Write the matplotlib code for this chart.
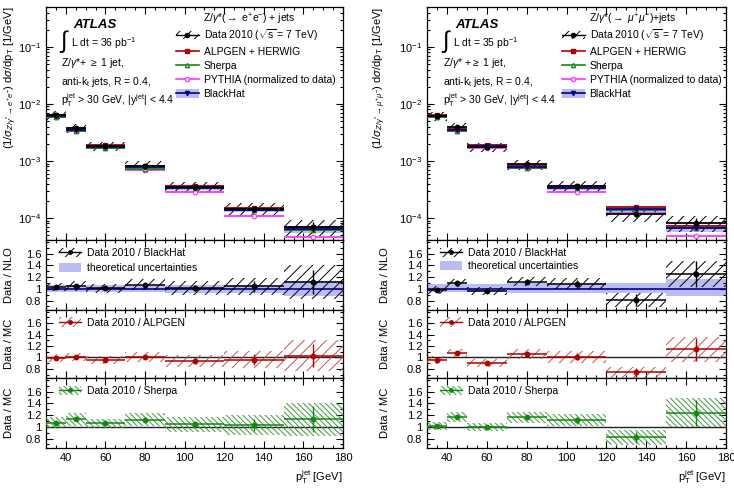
import matplotlib
matplotlib.use('Agg')
import matplotlib.pyplot as plt
import numpy as np
from matplotlib.patches import Patch
from matplotlib.lines import Line2D
from matplotlib.ticker import MultipleLocator, LogLocator, NullFormatter, FuncFormatter

plt.rcParams['font.family'] = ['Liberation Sans', 'DejaVu Sans']
plt.rcParams['mathtext.fontset'] = 'custom'
plt.rcParams['mathtext.rm'] = 'Liberation Sans'
plt.rcParams['mathtext.it'] = 'Liberation Sans:italic'
plt.rcParams['mathtext.bf'] = 'Liberation Sans:bold'
plt.rcParams['mathtext.sf'] = 'Liberation Sans'
plt.rcParams['hatch.linewidth'] = 0.7

# ---------------- data ----------------
bin_edges = [30, 40, 50, 70, 90, 120, 150, 180]

# electron channel, main panel
data_e = [6.3e-3, 3.7e-3, 1.8e-3, 8.2e-4, 3.5e-4, 1.45e-4, 7.0e-5]
data_band_e = [0.18, 0.18, 0.18, 0.20, 0.22, 0.25, 0.30]
data_stat_e = [0.02, 0.03, 0.03, 0.05, 0.07, 0.10, 0.20]
alpgen_e = [6.4e-3, 3.65e-3, 1.87e-3, 8.1e-4, 3.7e-4, 1.5e-4, 6.8e-5]
sherpa_e = [5.9e-3, 3.3e-3, 1.7e-3, 7.3e-4, 3.4e-4, 1.4e-4, 6.2e-5]
pythia_e = [5.9e-3, 3.3e-3, 1.65e-3, 6.8e-4, 2.8e-4, 1.08e-4, 4.7e-5]
blackhat_e = [6.1e-3, 3.5e-3, 1.78e-3, 7.7e-4, 3.4e-4, 1.4e-4, 6.3e-5]
bh_band_e = [0.08, 0.08, 0.08, 0.09, 0.10, 0.10, 0.14]

# electron channel, ratios
r_bh_e = [1.03, 1.05, 1.01, 1.07, 1.02, 1.04, 1.12]
syst_bh_e = [0.07, 0.08, 0.08, 0.09, 0.12, 0.15, 0.29]
stat_bh_e = [0.02, 0.02, 0.02, 0.03, 0.05, 0.09, 0.20]
theo_lo_e = [0.95, 0.95, 0.95, 0.95, 0.93, 0.93, 0.88]
theo_hi_e = [1.07, 1.07, 1.07, 1.07, 1.06, 1.06, 1.14]
r_alp_e = [0.99, 1.01, 0.96, 1.01, 0.94, 0.96, 1.03]
syst_alp_e = [0.07, 0.07, 0.07, 0.09, 0.11, 0.15, 0.27]
stat_alp_e = [0.02, 0.02, 0.02, 0.03, 0.05, 0.10, 0.20]
r_sh_e = [1.07, 1.13, 1.06, 1.12, 1.04, 1.03, 1.13]
syst_sh_e = [0.09, 0.11, 0.08, 0.11, 0.13, 0.17, 0.28]
stat_sh_e = [0.02, 0.02, 0.02, 0.04, 0.05, 0.10, 0.22]

# muon channel, main panel
data_m = [6.1e-3, 3.9e-3, 1.75e-3, 8.8e-4, 3.7e-4, 1.15e-4, 8.2e-5]
data_band_m = [0.18, 0.18, 0.18, 0.20, 0.22, 0.25, 0.30]
data_stat_m = [0.02, 0.03, 0.03, 0.05, 0.07, 0.10, 0.20]
alpgen_m = [6.4e-3, 3.6e-3, 1.92e-3, 8.3e-4, 3.65e-4, 1.55e-4, 7.2e-5]
sherpa_m = [6.0e-3, 3.3e-3, 1.75e-3, 7.6e-4, 3.3e-4, 1.4e-4, 6.6e-5]
pythia_m = [6.0e-3, 3.4e-3, 1.7e-3, 7.5e-4, 2.9e-4, 1.2e-4, 4.8e-5]
blackhat_m = [6.2e-3, 3.5e-3, 1.82e-3, 7.9e-4, 3.4e-4, 1.42e-4, 6.6e-5]
bh_band_m = [0.08, 0.08, 0.08, 0.10, 0.10, 0.10, 0.15]

# muon channel, ratios
r_bh_m = [0.98, 1.10, 0.96, 1.12, 1.09, 0.81, 1.25]
syst_bh_m = [0.07, 0.07, 0.07, 0.08, 0.10, 0.12, 0.22]
stat_bh_m = [0.02, 0.02, 0.02, 0.04, 0.06, 0.10, 0.22]
theo_lo_m = [0.94, 0.94, 0.94, 0.93, 0.93, 0.93, 0.88]
theo_hi_m = [1.08, 1.08, 1.08, 1.10, 1.10, 1.10, 1.17]
r_alp_m = [0.95, 1.07, 0.91, 1.06, 1.01, 0.74, 1.14]
syst_alp_m = [0.07, 0.07, 0.07, 0.08, 0.10, 0.10, 0.22]
stat_alp_m = [0.02, 0.02, 0.02, 0.04, 0.06, 0.08, 0.20]
r_sh_m = [1.01, 1.17, 1.00, 1.16, 1.11, 0.82, 1.24]
syst_sh_m = [0.07, 0.09, 0.07, 0.10, 0.10, 0.13, 0.25]
stat_sh_m = [0.02, 0.02, 0.02, 0.04, 0.06, 0.09, 0.22]

# ---------------- style ----------------
C_DATA = 'black'
C_ALP = '#b00000'
C_ALP_H = '#c85050'
C_SH = '#128a12'
C_SH_H = '#3c9a3c'
C_PY = '#ff33ff'
C_BH = '#000090'
C_BAND = '#bcbcf4'
H_DATA = '///'
H_SH = '\\' * 6

edges = np.array(bin_edges, dtype=float)
lefts = edges[:-1]
rights = edges[1:]
centers = 0.5 * (lefts + rights)
widths = rights - lefts

W, H = 734, 497
fig = plt.figure(figsize=(W / 100, H / 100), dpi=100)


def rect(x0, x1, y0, y1):
    return [x0 / W, 1 - y1 / H, (x1 - x0) / W, (y1 - y0) / H]


def style_axes(ax, ratio=False):
    ax.set_xlim(30, 180)
    ax.xaxis.set_major_locator(MultipleLocator(20))
    ax.xaxis.set_minor_locator(MultipleLocator(5))
    ax.tick_params(which='both', direction='in', top=True, right=True, labelsize=8)
    ax.tick_params(which='major', length=5, width=0.8)
    ax.tick_params(which='minor', length=2.5, width=0.8)
    for s in ax.spines.values():
        s.set_linewidth(0.9)
    if ratio:
        ax.set_ylim(0.64, 1.83)
        ax.set_yticks([0.8, 1.0, 1.2, 1.4, 1.6])
        ax.yaxis.set_minor_locator(MultipleLocator(0.1))
        ax.yaxis.set_major_formatter(FuncFormatter(lambda v, p: '%g' % v))


def draw_main(fig, xr, data, band, stat, alp, sh, py, bh, bhband,
              title, lumi, ylabel, txt_x, leg_x, ylabel_x, zline):
    ax = fig.add_axes(rect(xr[0], xr[1], 7, 240))
    ax.set_yscale('log')
    ax.set_ylim(4.1e-5, 0.5)
    style_axes(ax)
    ax.yaxis.set_minor_locator(LogLocator(base=10, subs=np.arange(2, 10)))
    ax.yaxis.set_minor_formatter(NullFormatter())
    ax.set_xticklabels([])
    data = np.array(data); bh = np.array(bh)
    # BlackHat band
    ax.bar(centers, 2 * bh * np.array(bhband), bottom=bh * (1 - np.array(bhband)),
           width=widths, color=C_BAND, lw=0, zorder=1)
    # data hatched band
    ax.bar(centers, 2 * data * np.array(band), bottom=data * (1 - np.array(band)),
           width=widths, fill=False, hatch=H_DATA, edgecolor=C_DATA, lw=0, zorder=2)
    for vals, col, mk, mfc in [(py, C_PY, 'o', 'white'), (sh, C_SH, '^', 'white'),
                               (alp, C_ALP, 's', C_ALP), (bh, C_BH, 'v', C_BH)]:
        ax.hlines(vals, lefts, rights, color=col, lw=1.3, zorder=3)
        ax.plot(centers, vals, ls='none', marker=mk, ms=3.2, mec=col, mfc=mfc,
                mew=0.9, zorder=4)
    ax.hlines(data, lefts, rights, color=C_DATA, lw=1.3, zorder=5)
    ax.errorbar(centers, data, yerr=data * np.array(stat), fmt='o', color=C_DATA,
                ms=3.2, lw=1, zorder=6)
    ax.set_ylabel(ylabel, fontsize=8, loc='top')
    ax.yaxis.set_label_coords(ylabel_x, 1.0)

    # annotations (pixel positions converted to axes fraction)
    def ax_pt(px, py_):
        return ((px - xr[0]) / (xr[1] - xr[0]), 1 - (py_ - 7) / 233)
    ax.text(*ax_pt(txt_x + 12, 25), 'ATLAS', fontsize=9.5, fontweight='bold',
            fontstyle='italic', transform=ax.transAxes, va='center')
    ax.text(*ax_pt(txt_x - 1, 42), '\u222B', fontsize=17, transform=ax.transAxes,
            va='center')
    ax.text(*ax_pt(txt_x + 10, 43), lumi, fontsize=7.5, transform=ax.transAxes,
            va='center')
    ax.text(*ax_pt(txt_x, 63), zline, fontsize=7.5, transform=ax.transAxes,
            va='center')
    ax.text(*ax_pt(txt_x, 82), r'anti-k$_{\rm t}$ jets, R = 0.4,', fontsize=7.5,
            transform=ax.transAxes, va='center')
    ax.text(*ax_pt(txt_x, 100), r'p$_{\rm T}^{\rm jet}$ > 30 GeV, |y$^{\rm jet}$| < 4.4',
            fontsize=7.5, transform=ax.transAxes, va='center')

    # legend
    ax.text(*ax_pt(leg_x + 27, 19), title, fontsize=7.5, transform=ax.transAxes,
            va='center')
    handles = [
        (Patch(fill=False, hatch=H_DATA, edgecolor=C_DATA, lw=0),
         Line2D([], [], color=C_DATA, marker='o', ms=3, lw=1)),
        Line2D([], [], color=C_ALP, marker='s', ms=3, lw=1.2),
        Line2D([], [], color=C_SH, marker='^', ms=3, mfc='white', lw=1.2),
        Line2D([], [], color=C_PY, marker='o', ms=3, mfc='white', lw=1.2),
        (Patch(facecolor=C_BAND, lw=0),
         Line2D([], [], color=C_BH, marker='v', ms=3, lw=1.2)),
    ]
    labels = [r'Data 2010 ($\sqrt{\rm s}$ = 7 TeV)', 'ALPGEN + HERWIG', 'Sherpa',
              'PYTHIA (normalized to data)', 'BlackHat']
    lx, ly = ax_pt(leg_x, 27)
    ax.legend(handles, labels, loc='upper left', bbox_to_anchor=(lx, ly),
              frameon=False, fontsize=7.5, handlelength=2.2, handletextpad=0.45,
              labelspacing=0.4, borderpad=0, borderaxespad=0, handleheight=0.9)
    return ax


def draw_ratio(fig, xr, yr, vals, syst, stat, col, hcol, hatch, label,
               theo=None, ylabel='Data / MC', ylabel_x=-0.13, bottom=False,
               leg_x=0.045, spacing=0.45):
    ax = fig.add_axes(rect(xr[0], xr[1], yr[0], yr[1]))
    style_axes(ax, ratio=True)
    vals = np.array(vals); syst = np.array(syst)
    handles = [(Patch(fill=False, hatch=hatch, edgecolor=hcol, lw=0),
                Line2D([], [], color=col, marker='o', ms=2.5, lw=1))]
    labels = [label]
    if theo is not None:
        lo, hi = np.array(theo[0]), np.array(theo[1])
        ax.bar(centers, hi - lo, bottom=lo, width=widths, color=C_BAND, lw=0, zorder=1)
        ax.axhline(1.0, color=C_BH, lw=1.2, zorder=2)
        handles.append(Patch(facecolor=C_BAND, lw=0))
        labels.append('theoretical uncertainties')
    else:
        ax.axhline(1.0, color='#222222', lw=1.0, zorder=2)
    ax.bar(centers, 2 * syst, bottom=vals - syst, width=widths, fill=False,
           hatch=hatch, edgecolor=hcol, lw=0, zorder=3)
    ax.hlines(vals, lefts, rights, color=col, lw=1.1, zorder=4)
    ax.errorbar(centers, vals, yerr=stat, fmt='o', color=col, ms=3.2, lw=1, zorder=5)
    ax.set_ylabel(ylabel, fontsize=8, va='center')
    ax.yaxis.set_label_coords(ylabel_x, 0.5)
    ax.legend(handles, labels, loc='upper left', bbox_to_anchor=(leg_x, 0.89),
              frameon=False, fontsize=7.5, handlelength=2.1, handletextpad=0.55,
              labelspacing=spacing, borderpad=0, borderaxespad=0, handleheight=1.0)
    if bottom:
        ax.set_xlabel(r'p$_{\rm T}^{\rm jet}$ [GeV]', fontsize=8, loc='right', va='top')
        ax.xaxis.set_label_coords(1.0, -0.28)
    else:
        ax.set_xticklabels([])
    return ax


# ---------------- left: electrons ----------------
XL = (46, 343)
draw_main(fig, XL, data_e, data_band_e, data_stat_e, alpgen_e, sherpa_e, pythia_e,
          blackhat_e, bh_band_e,
          r'Z/$\gamma$*($\rightarrow$ e$^{+}$e$^{-}$) + jets',
          r'L dt = 36 pb$^{-1}$',
          r'(1/$\sigma_{Z/\gamma^{*}\rightarrow e^{+}e^{-}}$) d$\sigma$/dp$_{\rm T}$ [1/GeV]',
          61, 176, -0.09, r'Z/$\gamma$*+ $\geq$ 1 jet,')
draw_ratio(fig, XL, (240, 310), r_bh_e, syst_bh_e, stat_bh_e, C_DATA, C_DATA, H_DATA,
           'Data 2010 / BlackHat', theo=(theo_lo_e, theo_hi_e), ylabel='Data / NLO',
           ylabel_x=-0.125)
draw_ratio(fig, XL, (310, 378), r_alp_e, syst_alp_e, stat_alp_e, C_ALP, C_ALP_H, H_DATA,
           'Data 2010 / ALPGEN', ylabel_x=-0.125)
draw_ratio(fig, XL, (378, 448), r_sh_e, syst_sh_e, stat_sh_e, C_SH, C_SH_H, H_SH,
           'Data 2010 / Sherpa', ylabel_x=-0.125, bottom=True)

# ---------------- right: muons ----------------
XR = (427, 726)
draw_main(fig, XR, data_m, data_band_m, data_stat_m, alpgen_m, sherpa_m, pythia_m,
          blackhat_m, bh_band_m,
          r'Z/$\gamma$*($\rightarrow$ $\mu^{+}\mu^{-}$)+jets',
          r'L dt = 35 pb$^{-1}$',
          r'(1/$\sigma_{Z/\gamma^{*}\rightarrow \mu^{+}\mu^{-}}$) d$\sigma$/dp$_{\rm T}$ [1/GeV]',
          443, 562, -0.13, r'Z/$\gamma$* +$\geq$ 1 jet,')
draw_ratio(fig, XR, (240, 310), r_bh_m, syst_bh_m, stat_bh_m, C_DATA, C_DATA, H_DATA,
           'Data 2010 / BlackHat', theo=(theo_lo_m, theo_hi_m), ylabel='Data / NLO',
           ylabel_x=-0.14, spacing=0.3)
draw_ratio(fig, XR, (310, 378), r_alp_m, syst_alp_m, stat_alp_m, C_ALP, C_ALP_H, H_DATA,
           'Data 2010 / ALPGEN', ylabel_x=-0.14)
draw_ratio(fig, XR, (378, 448), r_sh_m, syst_sh_m, stat_sh_m, C_SH, C_SH_H, H_SH,
           'Data 2010 / Sherpa', ylabel_x=-0.14, bottom=True)

fig.savefig('out.png', dpi=100)
